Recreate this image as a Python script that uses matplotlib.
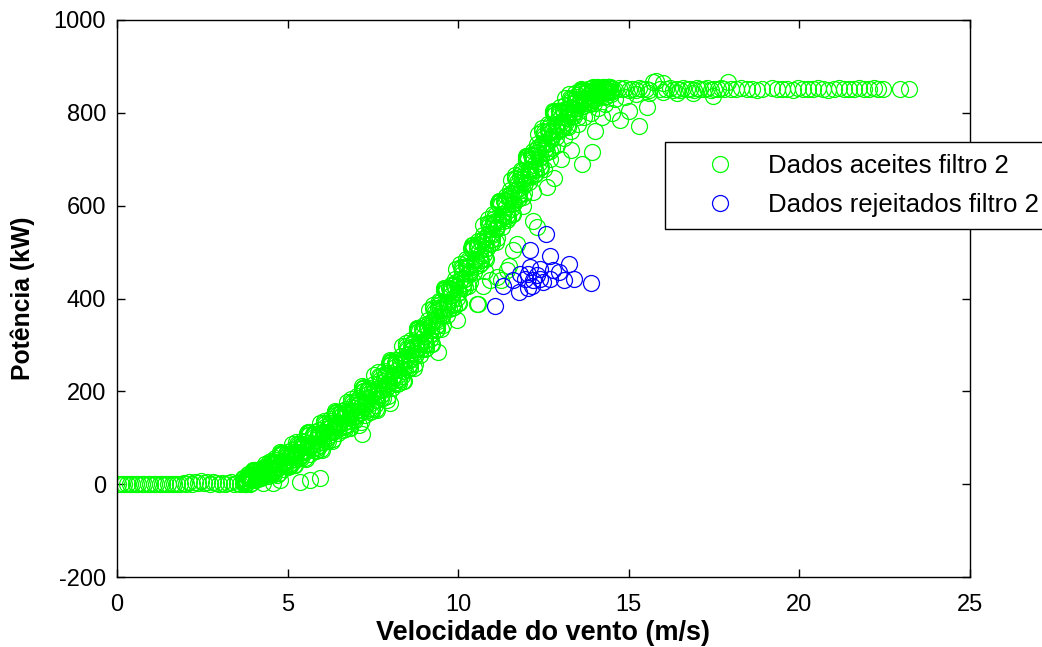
import matplotlib
matplotlib.use("Agg")
import matplotlib.pyplot as plt

plt.rcParams['font.family'] = ['Liberation Sans', 'DejaVu Sans']
plt.rcParams['axes.unicode_minus'] = False

# ---- data ----
# idle region (power ~ 0)
zero_x = [0.03, 0.12, 0.20, 0.28, 0.37, 0.45, 0.55, 0.63, 0.72, 0.80, 0.90, 0.98, 1.07, 1.15,
          1.25, 1.33, 1.42, 1.50, 1.60, 1.68, 1.77, 1.85, 1.95, 2.03, 2.12, 2.20, 2.30, 2.38,
          2.47, 2.55, 2.65, 2.73, 2.82, 2.90, 3.00, 3.08, 3.17, 3.25, 3.35, 3.43, 3.52, 3.60, 3.68]
zero_y = [0, 0, 0, 0, 0, 0, 0, 0, 0, 0, 0, 0, 0, 0,
          0, 0, 0, 0, 0, 0, 0, 0, 3, 0, 4, 0, 5, 2,
          6, 3, 5, 0, 4, 2, 0, 3, 0, 2, 4, 0, 3, 0, 2]

# rising part of the curve (sweep A)
rise_a_x = [3.70, 3.78, 3.86, 3.94, 4.02, 4.10, 4.18, 4.26, 4.34, 4.42, 4.50, 4.58, 4.66, 4.74,
            4.82, 4.90, 4.98, 5.06, 5.14, 5.22, 5.30, 5.38, 5.46, 5.54, 5.62, 5.70, 5.78, 5.86,
            5.94, 6.02, 6.10, 6.18, 6.26, 6.34, 6.42, 6.50, 6.58, 6.66, 6.74, 6.82, 6.90, 6.98,
            7.06, 7.14, 7.22, 7.30, 7.38, 7.46, 7.54, 7.62, 7.70, 7.78, 7.86, 7.94, 8.02, 8.10,
            8.18, 8.26, 8.34, 8.42, 8.50, 8.58, 8.66, 8.74, 8.82, 8.90, 8.98, 9.06, 9.14, 9.22,
            9.30, 9.38, 9.46, 9.54, 9.62, 9.70, 9.78, 9.86, 9.94, 10.02, 10.10, 10.18, 10.26,
            10.34, 10.42, 10.50, 10.58, 10.66, 10.74, 10.82, 10.90, 10.98, 11.06, 11.14, 11.22,
            11.30, 11.38, 11.46, 11.54, 11.62, 11.70, 11.78, 11.86, 11.94, 12.02, 12.10, 12.18,
            12.26, 12.34, 12.42, 12.50, 12.58, 12.66, 12.74, 12.82, 12.90, 12.98, 13.06, 13.14,
            13.22, 13.30, 13.38, 13.46, 13.54, 13.62, 13.70, 13.78, 13.86, 13.94, 14.02, 14.10,
            14.18, 14.26, 14.34, 14.42]
rise_a_y = [14, 2, 14, 3, 30, 18, 29, 17, 44, 17, 49, 27, 44, 24,
            67, 46, 63, 42, 86, 41, 84, 63, 80, 55, 110, 84, 105, 77,
            132, 74, 129, 102, 124, 98, 154, 129, 150, 123, 178, 120, 175, 147,
            170, 134, 207, 172, 200, 163, 235, 159, 230, 194, 223, 189, 264, 230,
            259, 224, 297, 222, 293, 259, 290, 258, 334, 302, 333, 300, 375, 302,
            376, 343, 375, 343, 420, 389, 421, 388, 463, 390, 465, 433, 465,
            435, 512, 482, 515, 482, 559, 486, 561, 529, 561, 531, 608,
            578, 611, 578, 655, 582, 657, 625, 657, 627, 705, 675, 708,
            677, 754, 683, 758, 725, 757, 725, 802, 771, 803, 771, 833,
            770, 830, 801, 826, 805, 849, 828, 845, 823, 855, 830, 854,
            841, 850, 837, 856]

# rising part of the curve (sweep B)
rise_b_x = [3.74, 3.82, 3.90, 3.98, 4.06, 4.14, 4.22, 4.30, 4.38, 4.46, 4.54, 4.62, 4.70, 4.78,
            4.86, 4.94, 5.02, 5.10, 5.18, 5.26, 5.34, 5.42, 5.50, 5.58, 5.66, 5.74, 5.82, 5.90,
            5.98, 6.06, 6.14, 6.22, 6.30, 6.38, 6.46, 6.54, 6.62, 6.70, 6.78, 6.86, 6.94, 7.02,
            7.10, 7.18, 7.26, 7.34, 7.42, 7.50, 7.58, 7.66, 7.74, 7.82, 7.90, 7.98, 8.06, 8.14,
            8.22, 8.30, 8.38, 8.46, 8.54, 8.62, 8.70, 8.78, 8.86, 8.94, 9.02, 9.10, 9.18, 9.26,
            9.34, 9.42, 9.50, 9.58, 9.66, 9.74, 9.82, 9.90, 9.98, 10.06, 10.14, 10.22, 10.30,
            10.38, 10.46, 10.54, 10.62, 10.70, 10.78, 10.86, 10.94, 11.02, 11.10, 11.18, 11.26,
            11.34, 11.42, 11.50, 11.58, 11.66, 11.74, 11.82, 11.90, 11.98, 12.06, 12.14, 12.22,
            12.30, 12.38, 12.46, 12.54, 12.62, 12.70, 12.78, 12.86, 12.94, 13.02, 13.10, 13.18,
            13.26, 13.34, 13.42, 13.50, 13.58, 13.66, 13.74, 13.82, 13.90, 13.98, 14.06, 14.14,
            14.22, 14.30, 14.38, 14.46]
rise_b_y = [0, 15, 0, 29, 16, 30, 14, 30, 25, 47, 22, 47, 19, 66,
            43, 65, 37, 64, 54, 91, 57, 84, 56, 110, 80, 108, 72, 105,
            91, 137, 94, 128, 93, 153, 125, 153, 117, 151, 137, 183, 140, 176,
            128, 206, 167, 203, 156, 198, 181, 242, 185, 229, 182, 262, 224, 262,
            216, 260, 243, 305, 249, 295, 250, 332, 295, 335, 291, 337, 323, 387,
            332, 379, 335, 418, 382, 422, 379, 425, 411, 475, 422, 469, 426,
            509, 475, 516, 473, 520, 507, 571, 518, 565, 522, 605, 571,
            612, 569, 616, 603, 667, 614, 661, 618, 701, 667, 709, 667,
            715, 702, 768, 714, 761, 717, 800, 764, 804, 765, 802, 789,
            840, 793, 830, 792, 848, 825, 847, 819, 845, 834, 856, 838,
            853, 835, 856, 847]

# rising part of the curve (sweep C)
rise_c_x = [3.72, 3.80, 3.88, 3.96, 4.04, 4.12, 4.20, 4.28, 4.36, 4.44, 4.52, 4.60, 4.68, 4.76,
            4.84, 4.92, 5.00, 5.08, 5.16, 5.24, 5.32, 5.40, 5.48, 5.56, 5.64, 5.72, 5.80, 5.88,
            5.96, 6.04, 6.12, 6.20, 6.28, 6.36, 6.44, 6.52, 6.60, 6.68, 6.76, 6.84, 6.92, 7.00,
            7.08, 7.16, 7.24, 7.32, 7.40, 7.48, 7.56, 7.64, 7.72, 7.80, 7.88, 7.96, 8.04, 8.12,
            8.20, 8.28, 8.36, 8.44, 8.52, 8.60, 8.68, 8.76, 8.84, 8.92, 9.00, 9.08, 9.16, 9.24,
            9.32, 9.40, 9.48, 9.56, 9.64, 9.72, 9.80, 9.88, 9.96, 10.04, 10.12, 10.20, 10.28,
            10.36, 10.44, 10.52, 10.60, 10.68, 10.76, 10.84, 10.92, 11.00, 11.08, 11.16, 11.24,
            11.32, 11.40, 11.48, 11.56, 11.64, 11.72, 11.80, 11.88, 11.96, 12.04, 12.12, 12.20,
            12.28, 12.36, 12.44, 12.52, 12.60, 12.68, 12.76, 12.84, 12.92, 13.00, 13.08, 13.16,
            13.24, 13.32, 13.40, 13.48, 13.56, 13.64, 13.72, 13.80, 13.88, 13.96, 14.04, 14.12,
            14.20, 14.28, 14.36, 14.44]
rise_c_y = [10, 6, 20, 15, 28, 15, 25, 32, 21, 34, 41, 31, 53, 43,
            64, 39, 55, 66, 48, 70, 76, 67, 90, 80, 106, 75, 95, 109,
            84, 111, 118, 107, 136, 124, 150, 120, 140, 155, 130, 156, 164, 149,
            186, 168, 201, 160, 186, 203, 171, 207, 217, 202, 240, 223, 258, 219,
            246, 265, 234, 269, 280, 267, 307, 292, 329, 291, 320, 341, 313, 351,
            363, 351, 392, 378, 416, 378, 408, 429, 401, 439, 453, 441, 483,
            469, 508, 471, 502, 524, 496, 535, 549, 537, 579, 565, 604,
            567, 598, 620, 592, 631, 645, 633, 675, 661, 700, 665, 696,
            719, 692, 731, 745, 733, 774, 760, 797, 760, 790, 806, 780,
            810, 819, 808, 839, 825, 846, 821, 837, 848, 828, 847, 850,
            843, 856, 849, 856]

# rising part of the curve (sweep D)
rise_d_x = [3.76, 3.84, 3.92, 4.00, 4.08, 4.16, 4.24, 4.32, 4.40, 4.48, 4.56, 4.64, 4.72, 4.80,
            4.88, 4.96, 5.04, 5.12, 5.20, 5.28, 5.36, 5.44, 5.52, 5.60, 5.68, 5.76, 5.84, 5.92,
            6.00, 6.08, 6.16, 6.24, 6.32, 6.40, 6.48, 6.56, 6.64, 6.72, 6.80, 6.88, 6.96, 7.04,
            7.12, 7.20, 7.28, 7.36, 7.44, 7.52, 7.60, 7.68, 7.76, 7.84, 7.92, 8.00, 8.08, 8.16,
            8.24, 8.32, 8.40, 8.48, 8.56, 8.64, 8.72, 8.80, 8.88, 8.96, 9.04, 9.12, 9.20, 9.28,
            9.36, 9.44, 9.52, 9.60, 9.68, 9.76, 9.84, 9.92, 10.00, 10.08, 10.16, 10.24, 10.32,
            10.40, 10.48, 10.56, 10.64, 10.72, 10.80, 10.88, 10.96, 11.04, 11.12, 11.20, 11.28,
            11.36, 11.44, 11.52, 11.60, 11.68, 11.76, 11.84, 11.92, 12.00, 12.08, 12.16, 12.24,
            12.32, 12.40, 12.48, 12.56, 12.64, 12.72, 12.80, 12.88, 12.96, 13.04, 13.12, 13.20,
            13.28, 13.36, 13.44, 13.52, 13.60, 13.68, 13.76, 13.84, 13.92, 14.00, 14.08, 14.16,
            14.24, 14.32, 14.40, 14.48]
rise_d_y = [6, 18, 10, 28, 20, 27, 18, 36, 28, 35, 34, 51, 35, 63,
            49, 59, 43, 74, 59, 70, 69, 87, 70, 106, 87, 101, 79, 117,
            97, 112, 110, 132, 113, 150, 132, 146, 125, 163, 143, 158, 155, 181,
            154, 201, 177, 194, 165, 215, 189, 208, 206, 235, 209, 257, 234, 253,
            226, 277, 252, 270, 270, 301, 277, 327, 306, 327, 301, 354, 332, 353,
            354, 385, 362, 413, 393, 414, 389, 442, 420, 442, 443, 476, 453,
            505, 486, 508, 484, 537, 516, 538, 539, 572, 549, 601, 582,
            604, 580, 633, 612, 634, 635, 668, 645, 697, 678, 701, 678,
            733, 712, 734, 736, 767, 744, 795, 775, 796, 774, 816, 795,
            811, 810, 835, 817, 845, 831, 842, 825, 854, 841, 847, 845,
            854, 844, 856, 844]

# rising part of the curve (sweep E)
rise_e_x = [3.71, 3.79, 3.87, 3.95, 4.03, 4.11, 4.19, 4.27, 4.35, 4.43, 4.51, 4.59, 4.67, 4.75,
            4.83, 4.91, 4.99, 5.07, 5.15, 5.23, 5.31, 5.39, 5.47, 5.55, 5.63, 5.71, 5.79, 5.87,
            5.95, 6.03, 6.11, 6.19, 6.27, 6.35, 6.43, 6.51, 6.59, 6.67, 6.75, 6.83, 6.91, 6.99,
            7.07, 7.15, 7.23, 7.31, 7.39, 7.47, 7.55, 7.63, 7.71, 7.79, 7.87, 7.95, 8.03, 8.11,
            8.19, 8.27, 8.35, 8.43, 8.51, 8.59, 8.67, 8.75, 8.83, 8.91, 8.99, 9.07, 9.15, 9.23,
            9.31, 9.39, 9.47, 9.55, 9.63, 9.71, 9.79, 9.87, 9.95, 10.03, 10.11, 10.19, 10.27,
            10.35, 10.43, 10.51, 10.59, 10.67, 10.75, 10.83, 10.91, 10.99, 11.07, 11.15, 11.23,
            11.31, 11.39, 11.47, 11.55, 11.63, 11.71, 11.79, 11.87, 11.95, 12.03, 12.11, 12.19,
            12.27, 12.35, 12.43, 12.51, 12.59, 12.67, 12.75, 12.83, 12.91, 12.99, 13.07, 13.15,
            13.23, 13.31, 13.39, 13.47, 13.55, 13.63, 13.71, 13.79, 13.87, 13.95, 14.03, 14.11,
            14.19, 14.27, 14.35, 14.43]
rise_e_y = [13, 0, 15, 11, 31, 20, 33, 15, 34, 25, 45, 21, 46, 36,
            68, 47, 69, 39, 69, 54, 81, 57, 82, 71, 112, 86, 112, 73,
            110, 91, 124, 94, 126, 115, 156, 131, 158, 119, 157, 137, 170, 139,
            172, 156, 209, 174, 208, 157, 206, 181, 225, 185, 226, 211, 266, 233,
            268, 218, 269, 243, 288, 250, 293, 280, 337, 305, 342, 294, 347, 324,
            371, 334, 378, 366, 423, 392, 430, 382, 435, 413, 460, 424, 468,
            457, 516, 485, 524, 477, 531, 509, 556, 520, 564, 553, 611,
            581, 620, 573, 627, 605, 652, 616, 660, 649, 708, 678, 718,
            671, 726, 705, 753, 716, 760, 748, 805, 774, 812, 767, 809,
            789, 826, 793, 828, 818, 850, 829, 851, 820, 849, 838, 853,
            837, 851, 845, 856]

# rising part of the curve (sweep F)
rise_f_x = [3.75, 3.83, 3.91, 3.99, 4.07, 4.15, 4.23, 4.31, 4.39, 4.47, 4.55, 4.63, 4.71, 4.79,
            4.87, 4.95, 5.03, 5.11, 5.19, 5.27, 5.35, 5.43, 5.51, 5.59, 5.67, 5.75, 5.83, 5.91,
            5.99, 6.07, 6.15, 6.23, 6.31, 6.39, 6.47, 6.55, 6.63, 6.71, 6.79, 6.87, 6.95, 7.03,
            7.11, 7.19, 7.27, 7.35, 7.43, 7.51, 7.59, 7.67, 7.75, 7.83, 7.91, 7.99, 8.07, 8.15,
            8.23, 8.31, 8.39, 8.47, 8.55, 8.63, 8.71, 8.79, 8.87, 8.95, 9.03, 9.11, 9.19, 9.27,
            9.35, 9.43, 9.51, 9.59, 9.67, 9.75, 9.83, 9.91, 9.99, 10.07, 10.15, 10.23, 10.31,
            10.39, 10.47, 10.55, 10.63, 10.71, 10.79, 10.87, 10.95, 11.03, 11.11, 11.19, 11.27,
            11.35, 11.43, 11.51, 11.59, 11.67, 11.75, 11.83, 11.91, 11.99, 12.07, 12.15, 12.23,
            12.31, 12.39, 12.47, 12.55, 12.63, 12.71, 12.79, 12.87, 12.95, 13.03, 13.11, 13.19,
            13.27, 13.35, 13.43, 13.51, 13.59, 13.67, 13.75, 13.83, 13.91, 13.99, 14.07, 14.15,
            14.23, 14.31, 14.39, 14.47]
rise_f_y = [1, 21, 11, 31, 10, 30, 21, 30, 18, 44, 26, 56, 38, 69,
            32, 64, 49, 63, 42, 86, 61, 93, 74, 113, 66, 107, 87, 104,
            76, 131, 100, 140, 117, 157, 111, 152, 132, 149, 122, 177, 145, 191,
            160, 211, 149, 202, 175, 197, 161, 234, 192, 244, 215, 267, 207, 261,
            235, 259, 223, 297, 256, 310, 283, 337, 278, 334, 310, 336, 303, 379,
            340, 394, 368, 423, 365, 421, 398, 424, 391, 467, 429, 485, 459,
            515, 457, 515, 493, 519, 487, 563, 525, 581, 555, 611, 553,
            611, 589, 615, 583, 659, 621, 677, 651, 707, 650, 709, 687,
            714, 683, 760, 722, 776, 750, 805, 747, 804, 782, 801, 772,
            833, 799, 843, 820, 851, 814, 846, 831, 844, 822, 856, 840,
            856, 845, 856, 841]

# scattered points below the main band
low_x = [4.28, 4.57, 4.78, 5.36, 5.66, 5.95, 7.17, 8.00, 9.41, 9.96, 10.54, 10.59, 10.73, 10.80,
         10.93, 11.13, 11.25, 11.42, 11.50, 11.62, 11.71, 12.18, 12.30, 11.90, 12.20, 12.50,
         12.59, 12.70, 12.80, 12.90, 13.00, 13.10, 13.30, 13.30, 13.50, 13.62, 13.70, 13.91,
         13.90, 14.00, 14.10, 14.20, 14.30, 14.50, 14.60, 14.74, 14.90, 15.00, 15.20, 15.31,
         15.52, 15.60, 16.00, 16.41, 16.88, 17.47]
low_y = [3, 3, 8, 4, 8, 13, 109, 174, 284, 353, 389, 389, 426, 460,
         439, 446, 440, 461, 470, 504, 518, 568, 554, 600, 630, 680,
         640, 700, 660, 730, 700, 745, 720, 760, 775, 689, 790, 715,
         800, 760, 810, 790, 820, 800, 830, 784, 835, 805, 840, 771,
         812, 843, 845, 842, 842, 837]

# rated-power plateau
plat_x = [14.50, 14.60, 14.70, 14.80, 14.90, 15.00, 15.10, 15.20, 15.30, 15.40, 15.50, 15.60,
          15.70, 15.80, 15.90, 16.00, 16.10, 16.20, 16.30, 16.40, 16.50, 16.60, 16.70, 16.80,
          16.90, 17.00, 17.10, 17.20, 17.30, 17.40, 17.50, 17.60, 17.70, 17.80, 17.90, 18.00,
          18.15, 18.30, 18.45, 18.60, 18.75, 18.90, 19.20, 19.35, 19.50, 19.65, 19.80, 19.95,
          20.10, 20.25, 20.40, 20.55, 20.70, 20.85, 21.00, 21.15, 21.30, 21.45, 21.60, 21.75,
          21.90, 22.05, 22.20, 22.30, 22.45, 22.95, 23.20]
plat_y = [852, 850, 853, 851, 854, 849, 852, 850, 853, 851, 852, 850,
          866, 868, 852, 864, 851, 853, 850, 852, 849, 853, 851, 852,
          850, 853, 852, 851, 853, 850, 852, 851, 853, 852, 867, 851,
          852, 853, 851, 852, 850, 852, 853, 851, 852, 852, 850, 853,
          852, 851, 852, 853, 852, 850, 852, 853, 851, 852, 852, 853,
          851, 852, 853, 852, 851, 852, 852]

# points rejected by filter 2
rej_x = [12.57, 12.11, 12.69, 13.25, 12.10, 12.40, 12.05, 12.79, 12.69, 13.11, 13.40, 13.90,
         11.81, 11.62, 11.32, 11.77, 12.20, 12.15, 12.40, 11.08, 11.96, 12.30, 12.49, 12.96,
         12.05]
rej_y = [538, 504, 491, 474, 468, 464, 453, 461, 443, 439, 443, 434,
         453, 439, 426, 414, 439, 428, 443, 383, 443, 450, 435, 457,
         423]

acc_x = zero_x + rise_a_x + rise_b_x + rise_c_x + rise_d_x + rise_e_x + rise_f_x + low_x + plat_x
acc_y = zero_y + rise_a_y + rise_b_y + rise_c_y + rise_d_y + rise_e_y + rise_f_y + low_y + plat_y

x_ticks = [0, 5, 10, 15, 20, 25]
y_ticks = [-200, 0, 200, 400, 600, 800, 1000]
x_label = "Velocidade do vento (m/s)"
y_label = "Potência (kW)"
legend_labels = ["Dados aceites filtro 2", "Dados rejeitados filtro 2"]

# ---- drawing ----
fig = plt.figure(figsize=(10.42, 6.47), dpi=100)
ax = fig.add_axes([117 / 1042, 1 - 577 / 647, (970 - 117) / 1042, (577 - 20) / 647])

ms = 11.5
ax.plot(acc_x, acc_y, linestyle='none', marker='o', markersize=ms, markerfacecolor='none',
        markeredgecolor='#00ff00', markeredgewidth=0.9, label=legend_labels[0])
ax.plot(rej_x, rej_y, linestyle='none', marker='o', markersize=ms, markerfacecolor='none',
        markeredgecolor='#0000ff', markeredgewidth=0.9, label=legend_labels[1])

ax.set_xlim(0, 25)
ax.set_ylim(-200, 1000)
ax.set_xticks(x_ticks)
ax.set_yticks(y_ticks)
ax.tick_params(direction='in', top=True, right=True, length=6, width=1,
               labelsize=17, pad=8)
ax.tick_params(axis='x', pad=12)
for s in ax.spines.values():
    s.set_linewidth(1)
    s.set_color('black')

ax.set_xlabel(x_label, fontsize=19.5, fontweight='bold', labelpad=3)
ax.set_ylabel(y_label, fontsize=17.8, fontweight='bold', labelpad=13)

leg = fig.legend(loc='upper left', bbox_to_anchor=(665 / 1042, 1 - 142 / 647),
                 bbox_transform=fig.transFigure, fontsize=18.5, frameon=True,
                 fancybox=False, shadow=False, borderaxespad=0, borderpad=0.45,
                 handlelength=3.4, handletextpad=0.15, labelspacing=0.6,
                 markerscale=1.0)
leg.get_frame().set_edgecolor('black')
leg.get_frame().set_linewidth(1)
leg.get_frame().set_alpha(1)

fig.savefig("out.png", dpi=100)
